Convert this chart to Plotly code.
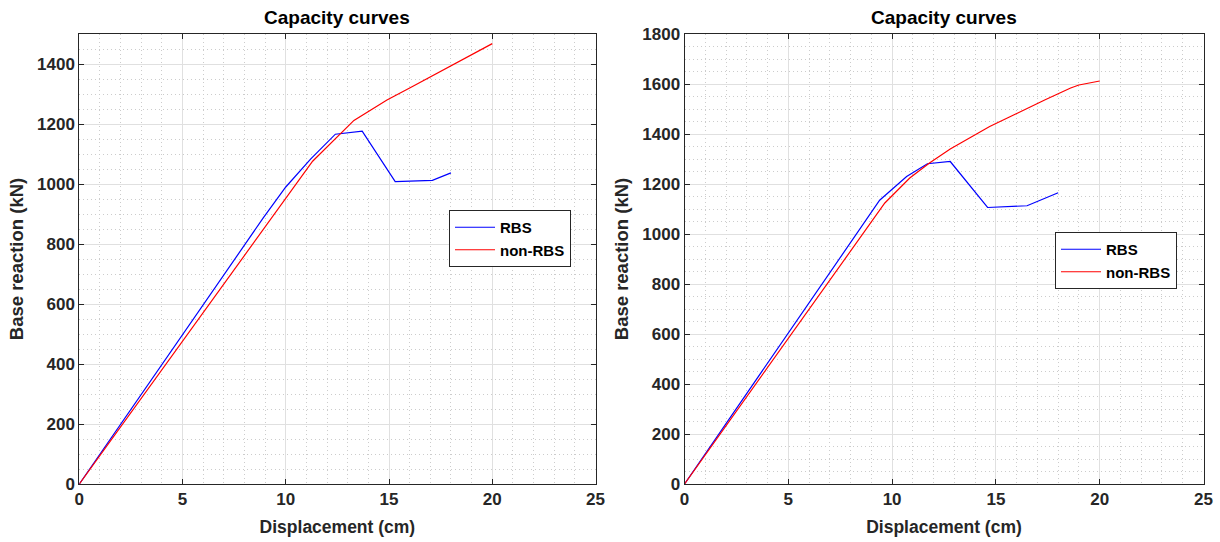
import plotly.graph_objects as go

# ---------------- data ----------------
# Left panel
rbs_left_x = [0, 8.9, 10.0, 11.2, 12.4, 13.7, 15.3, 17.1, 18.0]
rbs_left_y = [0, 886, 990, 1083, 1166, 1176, 1008, 1012, 1037]
nonrbs_left_x = [0, 9.3, 11.3, 13.3, 14.9, 16.0, 20.0]
nonrbs_left_y = [0, 886, 1076, 1212, 1280, 1320, 1468]

# Right panel
rbs_right_x = [0, 9.4, 10.7, 11.7, 12.8, 14.6, 16.5, 18.0]
rbs_right_y = [0, 1135, 1230, 1281, 1290, 1106, 1113, 1165]
nonrbs_right_x = [0, 9.65, 10.85, 11.8, 12.8, 14.7, 17.4, 18.6, 19.0, 20.0]
nonrbs_right_y = [0, 1124, 1224, 1284, 1340, 1430, 1538, 1584, 1596, 1612]

series_names = ["RBS", "non-RBS"]
panel_title = "Capacity curves"
x_label = "Displacement (cm)"
y_label = "Base reaction (kN)"
x_range = [0, 25]
y_range_left = [0, 1500]
y_range_right = [0, 1800]

# ---------------- style ----------------
FONT = "Liberation Sans, Arial, Helvetica, sans-serif"
AX = "#262626"
BLUE = "#0000ff"
RED = "#ff0000"
W, H = 1220, 542

fig = go.Figure()

fig.add_trace(go.Scatter(x=rbs_left_x, y=rbs_left_y, mode="lines", name=series_names[0],
                         line=dict(color=BLUE, width=1.2), xaxis="x", yaxis="y", legend="legend"))
fig.add_trace(go.Scatter(x=nonrbs_left_x, y=nonrbs_left_y, mode="lines", name=series_names[1],
                         line=dict(color=RED, width=1.2), xaxis="x", yaxis="y", legend="legend"))
fig.add_trace(go.Scatter(x=rbs_right_x, y=rbs_right_y, mode="lines", name=series_names[0],
                         line=dict(color=BLUE, width=1.2), xaxis="x2", yaxis="y2", legend="legend2"))
fig.add_trace(go.Scatter(x=nonrbs_right_x, y=nonrbs_right_y, mode="lines", name=series_names[1],
                         line=dict(color=RED, width=1.2), xaxis="x2", yaxis="y2", legend="legend2"))

MINOR_GRID = dict(showgrid=True, gridcolor="#cccccc", griddash="1px,3px", gridwidth=1, ticks="")

def xaxis_style(domain, anchor):
    return dict(
        domain=domain, anchor=anchor, range=x_range, dtick=5, tick0=0,
        showline=True, linecolor=AX, linewidth=1, mirror="ticks",
        ticks="inside", ticklen=5, tickcolor=AX,
        showgrid=True, gridcolor="#e0e0e0", gridwidth=1, zeroline=False,
        minor=dict(dtick=1, **MINOR_GRID),
        tickfont=dict(family=FONT, size=17, color=AX, weight="bold"),
        title=dict(text=x_label, font=dict(family=FONT, size=17.5, color=AX, weight="bold"), standoff=12),
        automargin=False, fixedrange=True,
    )

def yaxis_style(domain, anchor, rng):
    return dict(
        domain=domain, anchor=anchor, range=rng, dtick=200, tick0=0,
        showline=True, linecolor=AX, linewidth=1, mirror="ticks",
        ticks="inside", ticklen=5, tickcolor=AX,
        showgrid=True, gridcolor="#e0e0e0", gridwidth=1, zeroline=False,
        minor=dict(dtick=50, **MINOR_GRID),
        tickfont=dict(family=FONT, size=17, color=AX, weight="bold"),
        title=dict(text=y_label, font=dict(family=FONT, size=18.5, color=AX, weight="bold"), standoff=8),
        automargin=False, fixedrange=True,
    )

ydom = [58 / H, 508 / H]
fig.update_layout(
    width=W, height=H,
    margin=dict(l=0, r=0, t=0, b=0, autoexpand=False),
    paper_bgcolor="white", plot_bgcolor="white",
    font=dict(family=FONT, color=AX),
    xaxis=xaxis_style([79.3 / W, 595.5 / W], "y"),
    yaxis=yaxis_style(ydom, "x", y_range_left),
    xaxis2=xaxis_style([684.5 / W, 1203.5 / W], "y2"),
    yaxis2=yaxis_style(ydom, "x2", y_range_right),
    legend=dict(x=449 / W, y=(H - 210) / H, xanchor="left", yanchor="top",
                bgcolor="white", bordercolor=AX, borderwidth=1,
                font=dict(family=FONT, size=15, color="black", weight="bold"),
                itemwidth=40),
    legend2=dict(x=1055 / W, y=(H - 232) / H, xanchor="left", yanchor="top",
                 bgcolor="white", bordercolor=AX, borderwidth=1,
                 font=dict(family=FONT, size=15, color="black", weight="bold"),
                 itemwidth=40),
    showlegend=True,
)

for xc in [(79.3 + 595.5) / 2 / W, (684.5 + 1203.5) / 2 / W]:
    fig.add_annotation(x=xc, y=(H - 18) / H, xref="paper", yref="paper",
                       text=panel_title, showarrow=False, xanchor="center", yanchor="middle",
                       font=dict(family=FONT, size=19, color="black", weight="bold"))

fig.write_html(
    "out.html",
    config={"displayModeBar": False},
    post_script="document.body.style.margin='0';document.body.style.overflow='hidden';",
)
